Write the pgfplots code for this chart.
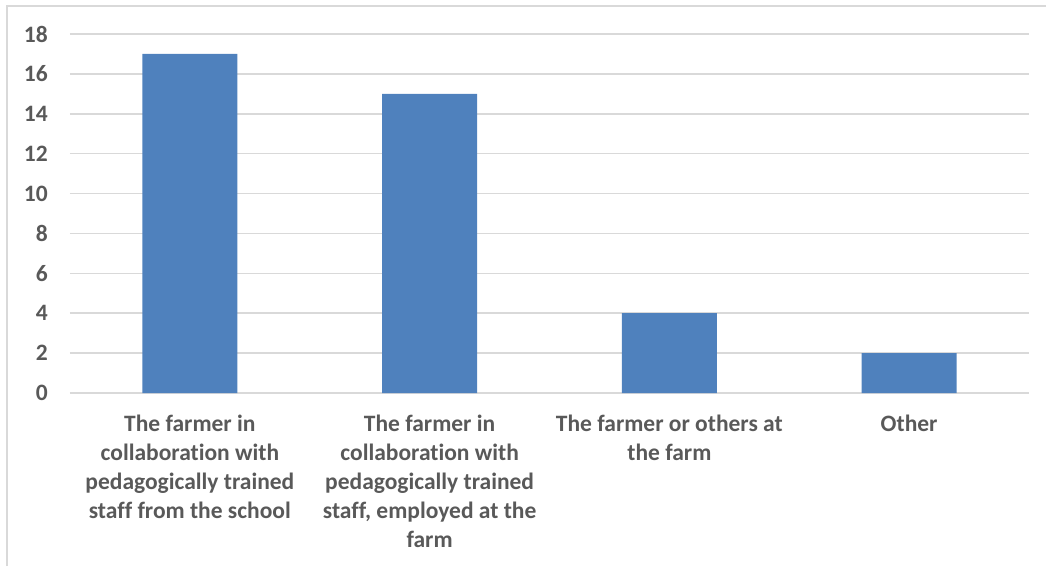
\documentclass[border=0pt]{standalone}
\usepackage{fontspec}
\setmainfont{Carlito}[Ligatures={NoCommon}]
\usepackage{pgfplots}
\pgfplotsset{compat=1.18}
\definecolor{barblue}{HTML}{4F81BD}
\definecolor{gridc}{HTML}{D9D9D9}
\definecolor{txt}{HTML}{595959}
\begin{document}
\begin{tikzpicture}[x=1pt,y=1pt]
\useasboundingbox (0,0) rectangle (1046,-566);
\draw[gridc, line width=1.5pt] (7,-566) -- (7,-6) -- (1046,-6);
\begin{axis}[
  at={(70pt,-393pt)}, anchor=south west,
  scale only axis, width=959pt, height=359pt,
  xmin=-0.5, xmax=3.5, ymin=0, ymax=18,
  ytick={0,2,...,18},
  xtick=data,
  xticklabels={{The farmer in\\collaboration with\\pedagogically trained\\staff from the school},
               {The farmer in\\collaboration with\\pedagogically trained\\staff, employed at the\\farm},
               {The farmer or others at\\the farm},
               {Other}},
  ymajorgrids,
  grid style={gridc, line width=1.5pt},
  axis line style={draw=none},
  major tick length=0pt,
  ybar, bar width=95pt,
  ticklabel style={font=\fontsize{23.5}{29}\selectfont\bfseries, text=txt},
  /pgf/number format/assume math mode=true,
  yticklabel style={inner sep=0pt, anchor=east, xshift=-22pt},
  xticklabel style={align=center, inner sep=0pt, anchor=north, yshift=-22pt},
]
\addplot[fill=barblue, draw=none] coordinates {(0,17) (1,15) (2,4) (3,2)};
\end{axis}
\end{tikzpicture}
\end{document}
